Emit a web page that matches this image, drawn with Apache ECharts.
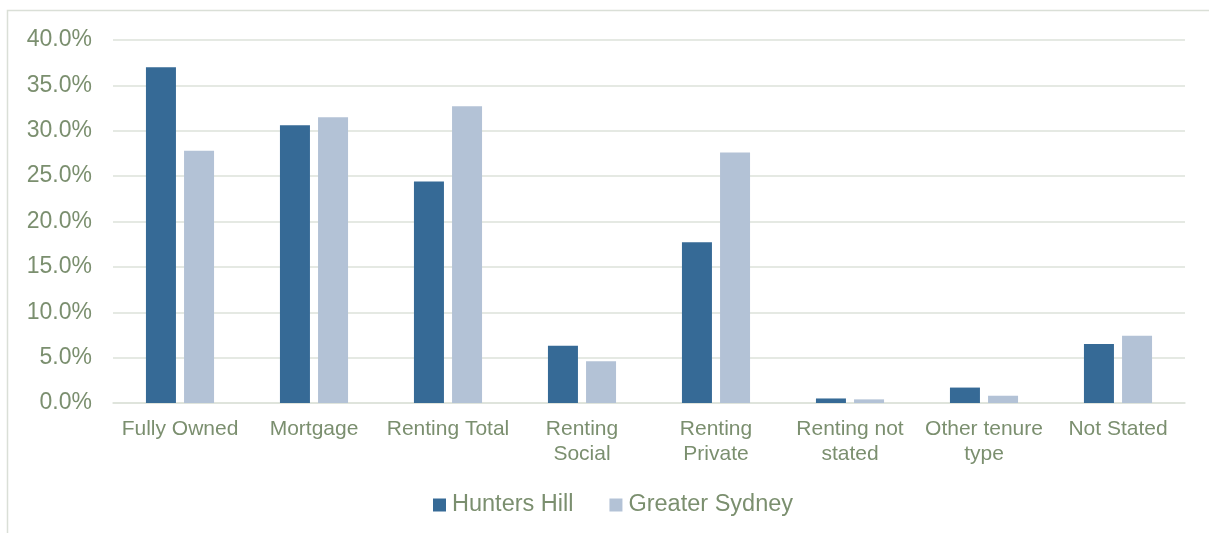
<!DOCTYPE html>
<html>
<head>
<meta charset="utf-8">
<title>Tenure type</title>
<script src="https://cdn.jsdelivr.net/npm/echarts@6/dist/echarts.min.js"></script>
<style>
  html, body { margin: 0; padding: 0; background: #ffffff; }
  #chart { width: 1209px; height: 533px; }
</style>
</head>
<body>
<div id="chart"></div>
<script>
// Dwelling tenure shares (%)
const categories = [
  'Fully Owned', 'Mortgage', 'Renting Total', 'Renting\nSocial',
  'Renting\nPrivate', 'Renting not\nstated', 'Other tenure\ntype', 'Not Stated'
];
const huntersHill = [37.0, 30.6, 24.4, 6.3, 17.7, 0.5, 1.7, 6.5];
const greaterSydney = [27.8, 31.5, 32.7, 4.6, 27.6, 0.4, 0.8, 7.4];
const seriesNames = ['Hunters Hill', 'Greater Sydney'];

const textColor = '#7B8F6F';
const gridColor = '#DDE2DA';
const fontFamily = 'Liberation Sans, Arial, sans-serif';

const chart = echarts.init(document.getElementById('chart'), null, { renderer: 'canvas' });

chart.setOption({
  animation: false,
  backgroundColor: '#ffffff',
  graphic: [{
    type: 'rect',
    shape: { x: 7.5, y: 10.5, width: 1300, height: 700 },
    style: { fill: 'none', stroke: '#DADFD7', lineWidth: 1.5 },
    silent: true,
    z: -1
  }],
  grid: { left: 113, right: 24, top: 40, bottom: 130, containLabel: false },
  legend: {
    data: seriesNames,
    left: 428,
    top: 488,
    itemWidth: 13,
    itemHeight: 13,
    itemGap: 36,
    icon: 'rect',
    textStyle: { color: textColor, fontSize: 23.5, fontFamily: fontFamily, padding: [0, 0, 0, 1] }
  },
  xAxis: {
    type: 'category',
    data: categories,
    axisLine: { show: true, lineStyle: { color: gridColor, width: 1.5 } },
    axisTick: { show: false },
    axisLabel: {
      color: textColor,
      fontSize: 21,
      fontFamily: fontFamily,
      lineHeight: 25,
      margin: 14,
      interval: 0
    }
  },
  yAxis: {
    type: 'value',
    min: 0,
    max: 40,
    interval: 5,
    axisLine: { show: false },
    axisTick: { show: false },
    splitLine: { lineStyle: { color: gridColor, width: 1.5 } },
    axisLabel: {
      color: textColor,
      fontSize: 23,
      fontFamily: fontFamily,
      margin: 21,
      padding: [7, 0, 0, 0],
      formatter: v => v.toFixed(1) + '%'
    }
  },
  series: [
    {
      name: seriesNames[0],
      type: 'bar',
      data: huntersHill,
      barWidth: 30,
      barGap: '27%',
      itemStyle: { color: '#366A96' }
    },
    {
      name: seriesNames[1],
      type: 'bar',
      data: greaterSydney,
      barWidth: 30,
      itemStyle: { color: '#B3C2D6' }
    }
  ]
});
</script>
</body>
</html>
